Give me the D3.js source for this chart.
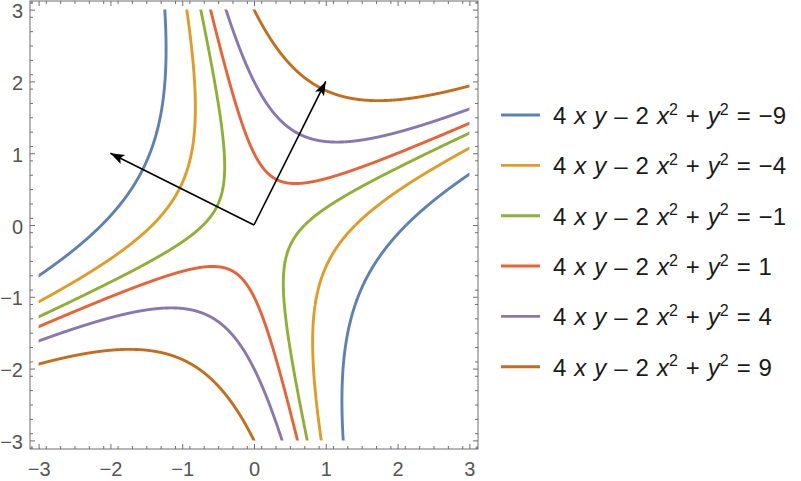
<!DOCTYPE html>
<html>
<head>
<meta charset="utf-8">
<script src="https://cdn.jsdelivr.net/npm/d3@7"></script>
<style>
  html, body { margin: 0; padding: 0; background: #fff; }
  svg { display: block; }
</style>
</head>
<body>
<svg id="chart" width="801" height="481"></svg>
<script>
// ---- data ----
// level values of the implicit curves  4xy - 2x^2 + y^2 = c
const levels = [-9, -4, -1, 1, 4, 9];
// coefficients of the quadratic form (xy, x^2, y^2)
const coefXY = 4, coefX2 = -2, coefY2 = 1;
// eigenvector arrows drawn from the origin
const arrowTips = [[1, 2], [-2, 1]];
// axis tick values
const majorTicks = [-3, -2, -1, 0, 1, 2, 3];
const minorTicks = d3.range(-31, 32, 2).map(d => d / 10).filter(d => Math.abs(d) <= 3.12);
const plotRange = [-3, 3];

// ---- styles ----
const palette = ["#5E81B5", "#E19C24", "#8FB032", "#EB6235", "#8778B3", "#C56E1A"];

const svg = d3.select("#chart");
const x = d3.scaleLinear().domain([-3.12, 3.12]).range([30, 478]);
const y = d3.scaleLinear().domain([-3.12, 3.12]).range([449, 1]);

// clip region = plot range
svg.append("defs").append("clipPath").attr("id", "clip")
  .append("rect")
  .attr("x", x(plotRange[0])).attr("y", y(plotRange[1]))
  .attr("width", x(plotRange[1]) - x(plotRange[0]))
  .attr("height", y(plotRange[0]) - y(plotRange[1]));

// arrow marker
svg.select("defs").append("marker")
  .attr("id", "arrowhead")
  .attr("viewBox", "-15 -6 17 12")
  .attr("markerWidth", 17).attr("markerHeight", 12)
  .attr("markerUnits", "userSpaceOnUse")
  .attr("refX", 0).attr("refY", 0)
  .attr("orient", "auto")
  .append("path")
  .attr("d", "M0,0 L-14,-5 L-11,0 L-14,5 Z")
  .attr("fill", "#000");

// curves: polar parametrisation of the level sets
function curveSegments(c) {
  const segs = [];
  let cur = [];
  const N = 20000;
  for (let i = 0; i <= N; i++) {
    const t = (i / N) * 2 * Math.PI;
    const s = Math.sin(t), co = Math.cos(t);
    const g = coefXY * s * co + coefX2 * co * co + coefY2 * s * s;
    const q = c / g;
    if (q > 0) {
      const r = Math.sqrt(q);
      if (r < 7) { cur.push([r * co, r * s]); continue; }
    }
    if (cur.length > 1) segs.push(cur);
    cur = [];
  }
  if (cur.length > 1) segs.push(cur);
  return segs;
}

const line = d3.line().x(d => x(d[0])).y(d => y(d[1]));
const curvesG = svg.append("g").attr("clip-path", "url(#clip)");
levels.forEach((c, i) => {
  curveSegments(c).forEach(seg => {
    curvesG.append("path")
      .attr("d", line(seg))
      .attr("fill", "none")
      .attr("stroke", palette[i])
      .attr("stroke-width", 2.9);
  });
});

// arrows
arrowTips.forEach(tp => {
  svg.append("line")
    .attr("x1", x(0)).attr("y1", y(0))
    .attr("x2", x(tp[0])).attr("y2", y(tp[1]))
    .attr("stroke", "#000").attr("stroke-width", 1.6)
    .attr("marker-end", "url(#arrowhead)");
});

// frame + ticks
const frameColor = "#6e6e6e";
const labelColor = "#555";
const fmt = d => d < 0 ? "\u2212" + Math.abs(d) : String(d);

function axis(gen, scale, values, size, tf, labels) {
  const g = svg.append("g").attr("transform", tf)
    .call(gen(scale).tickValues(values).tickSize(size).tickSizeOuter(0)
      .tickFormat(labels ? fmt : () => ""));
  g.select(".domain").remove();
  g.selectAll(".tick line").attr("stroke", frameColor).attr("stroke-width", 1);
  return g;
}

// bottom
const bx = axis(d3.axisBottom, x, majorTicks, -5, `translate(0,${y.range()[0]})`, true);
bx.selectAll(".tick text").attr("fill", labelColor)
  .style("font-family", "Liberation Sans, Arial, sans-serif").style("font-size", "20px")
  .attr("y", 27).attr("dy", 0);
axis(d3.axisBottom, x, minorTicks, -3, `translate(0,${y.range()[0]})`, false);
// top
axis(d3.axisTop, x, majorTicks, -5, `translate(0,${y.range()[1]})`, false);
axis(d3.axisTop, x, minorTicks, -3, `translate(0,${y.range()[1]})`, false);
// left
const ly = axis(d3.axisLeft, y, majorTicks, -5, `translate(${x.range()[0]},0)`, true);
ly.selectAll(".tick text").attr("fill", labelColor)
  .style("font-family", "Liberation Sans, Arial, sans-serif").style("font-size", "20px")
  .attr("x", -7).attr("dy", "0.4em");
axis(d3.axisLeft, y, minorTicks, -3, `translate(${x.range()[0]},0)`, false);
// right
axis(d3.axisRight, y, majorTicks, -5, `translate(${x.range()[1]},0)`, false);
axis(d3.axisRight, y, minorTicks, -3, `translate(${x.range()[1]},0)`, false);

svg.append("rect")
  .attr("x", x.range()[0]).attr("y", y.range()[1])
  .attr("width", x.range()[1] - x.range()[0])
  .attr("height", y.range()[0] - y.range()[1])
  .attr("fill", "none").attr("stroke", frameColor).attr("stroke-width", 1);

// legend
const legend = svg.append("g");
const rowY = d3.scalePoint().domain(levels).range([115, 366.7]);
levels.forEach((c, i) => {
  const yy = rowY(c);
  legend.append("line")
    .attr("x1", 501).attr("x2", 540).attr("y1", yy).attr("y2", yy)
    .attr("stroke", palette[i]).attr("stroke-width", 2.9);
  const t = legend.append("text")
    .attr("x", 553).attr("y", yy + 9)
    .attr("fill", "#1a1a1a")
    .style("font-family", "Liberation Sans, Arial, sans-serif")
    .style("font-size", "24px")
    .style("word-spacing", "1.3px")
    .style("white-space", "pre");
  const parts = [
    ["4 ", "normal"], ["x", "italic"], [" ", "normal"], ["y", "italic"],
    [" \u2013 2 ", "normal"], ["x", "italic"], ["2", "sup"],
    [" + ", "normal"], ["y", "italic"], ["2", "sup"],
    [" = " + fmt(c), "normal"]
  ];
  let raised = false;
  parts.forEach(p => {
    const ts = t.append("tspan").text(p[0]);
    if (p[1] === "italic") ts.style("font-style", "italic");
    if (p[1] === "sup") {
      ts.style("font-size", "16px").attr("dy", -9.5);
      raised = true;
    } else if (raised) {
      ts.attr("dy", 9.5);
      raised = false;
    }
  });
});
</script>
</body>
</html>
